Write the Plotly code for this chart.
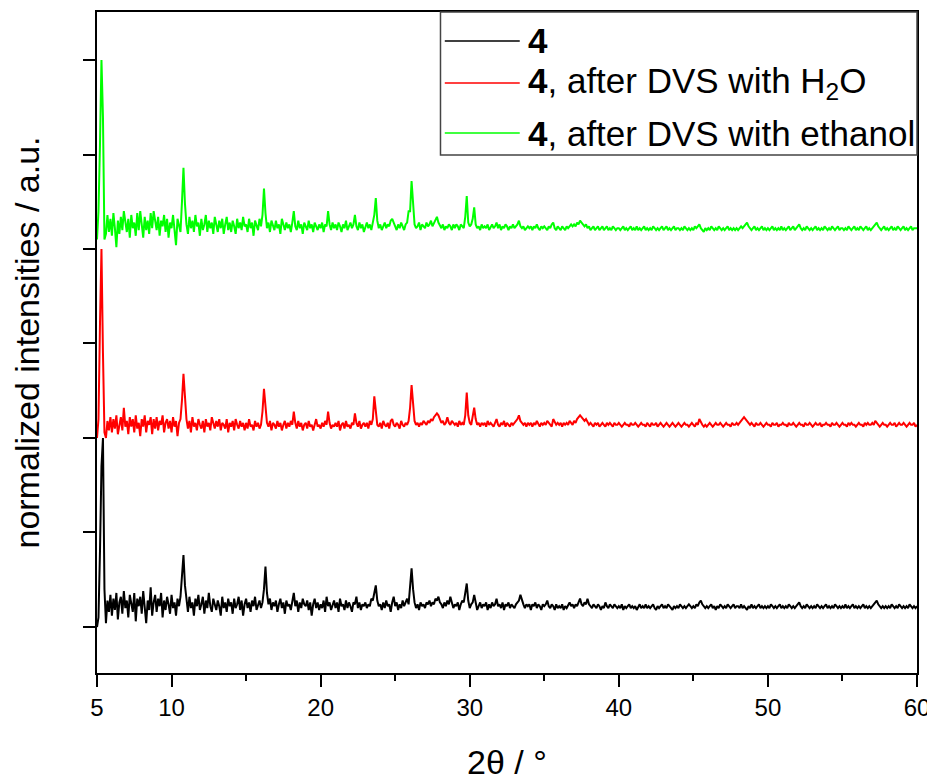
import plotly.graph_objects as go

# 2theta sampling grid: 5.0 .. 60.0 in 0.1 degree steps (rows below = 1 degree each)
two_theta = [round(5 + 0.1 * i, 1) for i in range(551)]

# normalized intensities (max peak = 100)
int_4 = [
    0, 5, 40, 85, 100, 20, 2, 14, 8, 17,
    6, 15, 9, 18, 4, 13, 16, 7, 19, 10,
    14, 5, 17, 12, 8, 18, 3, 15, 11, 16,
    7, 19, 10, 2, 14, 9, 21, 6, 13, 17,
    8, 15, 11, 18, 5, 14, 9, 16, 12, 7,
    17, 10, 13, 6, 15, 11, 16, 25, 38, 22,
    14, 8, 16, 10, 13, 6, 15, 11, 17, 9,
    12, 16, 7, 14, 10, 18, 11, 8, 15, 12,
    9, 14, 11, 6, 16, 10, 13, 8, 15, 11,
    13, 7, 15, 10, 12, 16, 9, 14, 6, 12,
    15, 10, 13, 8, 14, 11, 16, 9, 12, 14,
    10, 13, 20, 32, 18, 12, 15, 9, 13, 11,
    14, 8, 12, 15, 10, 13, 7, 14, 11, 12,
    9, 13, 18, 11, 14, 8, 13, 10, 15, 12,
    11, 14, 9, 13, 6, 12, 15, 10, 13, 9,
    12, 10, 14, 8, 16, 11, 13, 9, 12, 14,
    10, 13, 8, 15, 11, 12, 9, 14, 10, 13,
    11, 8, 13, 12, 16, 10, 13, 9, 12, 11,
    13, 10, 12, 11, 15, 14, 18, 22, 14, 11,
    12, 9, 13, 10, 14, 11, 12, 8, 13, 16,
    11, 13, 9, 12, 10, 14, 11, 13, 15, 12,
    20, 31, 20, 13, 10, 12, 9, 13, 11, 12,
    10, 13, 12, 14, 11, 13, 12, 15, 14, 16,
    13, 12, 10, 13, 11, 14, 12, 16, 13, 10,
    12, 11, 13, 9, 12, 14, 13, 18, 23, 14,
    10, 12, 13, 17, 12, 9, 11, 13, 10, 12,
    11, 13, 9, 12, 10, 13, 11, 12, 15, 11,
    12, 10, 13, 9, 12, 11, 13, 10, 12, 11,
    10, 12, 13, 14, 17, 14, 12, 10, 12, 11,
    12, 9, 12, 11, 13, 10, 12, 11, 9, 12,
    11, 12, 14, 11, 10, 12, 11, 9, 12, 10,
    11, 10, 12, 9, 11, 10, 12, 13, 11, 12,
    10, 12, 11, 13, 15, 12, 11, 13, 12, 15,
    12, 11, 10, 12, 11, 10, 12, 11, 9, 11,
    10, 13, 11, 10, 12, 11, 10, 12, 11, 10,
    11, 10, 12, 9, 11, 10, 11, 12, 10, 11,
    10, 11, 9, 11, 12, 10, 11, 10, 12, 10,
    11, 10, 11, 12, 10, 9, 11, 10, 11, 12,
    10, 11, 10, 12, 11, 10, 9, 11, 10, 11,
    10, 12, 11, 10, 11, 10, 11, 12, 11, 10,
    11, 10, 12, 11, 13, 14, 12, 11, 10, 11,
    10, 11, 12, 10, 11, 9, 11, 10, 12, 11,
    10, 11, 10, 12, 11, 10, 11, 12, 10, 11,
    11, 10, 12, 10, 11, 10, 9, 11, 10, 12,
    10, 11, 10, 11, 12, 10, 11, 10, 11, 10,
    11, 10, 12, 11, 10, 11, 10, 11, 12, 10,
    11, 10, 11, 10, 12, 11, 10, 11, 10, 11,
    12, 13, 11, 10, 11, 10, 12, 11, 10, 11,
    10, 11, 10, 12, 11, 10, 11, 10, 11, 12,
    10, 11, 10, 11, 10, 12, 11, 10, 11, 10,
    11, 10, 12, 10, 11, 10, 11, 12, 10, 11,
    10, 11, 10, 11, 12, 10, 11, 10, 11, 10,
    11, 12, 13, 14, 12, 11, 10, 11, 10, 11,
    10, 11, 10, 12, 11, 10, 11, 10, 12, 11,
    10, 11, 10, 11, 10, 12, 11, 10, 11, 10,
    11,
]

int_4_h2o = [
    0, 10, 60, 100, 45, 3, 0, 9, 4, 11,
    3, 10, 5, 12, 2, 8, 11, 4, 16, 6,
    9, 2, 11, 6, 10, 3, 12, 5, 8, 1,
    10, 6, 12, 3, 9, 7, 11, 2, 10, 5,
    11, 4, 9, 7, 12, 3, 8, 10, 5, 9,
    3, 11, 6, 9, 1, 8, 10, 20, 34, 22,
    10, 5, 9, 3, 11, 6, 8, 4, 10, 7,
    5, 9, 3, 10, 6, 8, 4, 11, 7, 5,
    9, 6, 10, 4, 8, 7, 5, 10, 3, 8,
    6, 9, 4, 10, 7, 5, 9, 6, 8, 4,
    8, 5, 10, 6, 7, 4, 9, 6, 8, 5,
    7, 14, 26, 15, 8, 6, 9, 4, 8, 7,
    5, 9, 6, 8, 4, 7, 9, 5, 8, 6,
    9, 7, 14, 8, 5, 9, 6, 8, 4, 7,
    8, 5, 9, 6, 7, 4, 8, 10, 6, 7,
    5, 8, 6, 9, 7, 14, 8, 5, 7, 6,
    8, 6, 9, 4, 7, 8, 5, 9, 6, 7,
    5, 8, 7, 13, 8, 6, 9, 5, 7, 8,
    6, 8, 5, 9, 7, 10, 22, 12, 7, 6,
    8, 5, 9, 7, 6, 8, 5, 9, 10, 7,
    6, 8, 7, 5, 9, 7, 6, 8, 7, 9,
    16, 28, 17, 9, 7, 8, 6, 8, 7, 9,
    8, 7, 9, 8, 10, 9, 11, 12, 13, 12,
    10, 8, 9, 7, 8, 11, 8, 7, 9, 8,
    7, 8, 6, 9, 7, 8, 7, 12, 24, 12,
    8, 7, 11, 16, 10, 7, 8, 6, 8, 7,
    8, 6, 9, 7, 8, 7, 6, 8, 10, 7,
    6, 8, 7, 9, 6, 8, 7, 6, 8, 7,
    8, 9, 10, 12, 9, 8, 7, 8, 6, 8,
    7, 8, 6, 8, 7, 9, 7, 6, 8, 7,
    8, 7, 9, 8, 7, 6, 10, 8, 7, 8,
    7, 8, 6, 8, 7, 8, 7, 9, 8, 7,
    9, 8, 10, 11, 12, 11, 10, 9, 10, 8,
    7, 8, 7, 6, 8, 7, 8, 6, 7, 8,
    7, 6, 8, 7, 8, 7, 6, 8, 7, 7,
    8, 7, 6, 7, 8, 7, 7, 6, 8, 7,
    7, 8, 7, 6, 7, 8, 7, 7, 6, 8,
    7, 6, 8, 7, 7, 8, 6, 7, 8, 7,
    6, 7, 8, 7, 6, 7, 8, 7, 6, 7,
    8, 7, 6, 7, 8, 7, 7, 6, 7, 8,
    7, 6, 8, 7, 10, 8, 7, 6, 7, 6,
    7, 8, 7, 6, 7, 8, 7, 7, 8, 7,
    6, 7, 8, 7, 7, 6, 8, 7, 7, 8,
    7, 8, 9, 10, 11, 10, 9, 8, 7, 8,
    7, 6, 8, 7, 7, 8, 7, 6, 7, 8,
    7, 7, 6, 8, 7, 7, 8, 6, 7, 7,
    8, 7, 7, 6, 8, 7, 7, 8, 7, 6,
    7, 8, 7, 7, 6, 8, 7, 7, 8, 7,
    6, 7, 8, 7, 7, 8, 6, 7, 7, 8,
    7, 7, 6, 8, 7, 7, 8, 7, 6, 7,
    8, 7, 7, 6, 8, 7, 8, 7, 7, 6,
    7, 8, 7, 7, 6, 8, 7, 8, 7, 7,
    8, 7, 9, 8, 7, 6, 7, 8, 7, 7,
    6, 7, 8, 7, 7, 8, 6, 7, 8, 7,
    7, 8, 7, 6, 7, 8, 7, 7, 8, 6,
    7,
]

int_4_ethanol = [
    5, 20, 55, 100, 70, 5, 8, 18, 9, 16,
    7, 19, 11, 1, 15, 8, 17, 10, 20, 13,
    9, 16, 6, 18, 11, 14, 7, 19, 10, 20,
    12, 6, 17, 10, 15, 8, 19, 11, 20, 14,
    10, 17, 7, 15, 12, 18, 9, 16, 6, 14,
    11, 18, 8, 2, 16, 13, 9, 25, 43, 24,
    13, 8, 17, 11, 15, 9, 18, 12, 14, 7,
    16, 10, 13, 18, 9, 15, 11, 14, 8, 17,
    12, 9, 15, 11, 16, 8, 13, 17, 10, 14,
    9, 15, 12, 8, 16, 11, 14, 10, 17, 12,
    13, 9, 16, 11, 14, 7, 15, 12, 10, 16,
    12, 18, 32, 19, 11, 14, 9, 15, 12, 10,
    15, 11, 13, 8, 16, 12, 10, 14, 11, 13,
    9, 14, 20, 12, 10, 15, 11, 13, 8, 14,
    12, 10, 15, 11, 13, 9, 14, 12, 10, 13,
    11, 14, 9, 13, 12, 20, 13, 10, 14, 11,
    13, 10, 14, 12, 9, 13, 11, 15, 10, 12,
    14, 11, 13, 18, 12, 10, 14, 11, 13, 9,
    12, 14, 11, 13, 10, 15, 18, 27, 15, 11,
    13, 10, 12, 14, 11, 13, 12, 15, 16, 14,
    12, 10, 13, 11, 14, 12, 10, 13, 14, 20,
    20, 36, 21, 13, 11, 12, 14, 10, 13, 12,
    11, 14, 12, 13, 15, 12, 14, 16, 17, 14,
    12, 11, 13, 10, 12, 11, 13, 12, 10, 13,
    11, 13, 12, 10, 13, 12, 11, 17, 28, 14,
    12, 13, 16, 22, 13, 11, 12, 10, 13, 11,
    12, 11, 13, 10, 12, 13, 11, 12, 14, 11,
    13, 10, 12, 11, 13, 12, 10, 12, 11, 13,
    11, 12, 13, 15, 12, 11, 12, 10, 11, 12,
    11, 12, 10, 12, 11, 13, 11, 10, 12, 11,
    12, 11, 10, 12, 11, 13, 14, 11, 10, 12,
    11, 10, 12, 11, 10, 12, 11, 12, 13, 12,
    13, 12, 14, 13, 15, 14, 13, 12, 13, 11,
    12, 10, 11, 12, 10, 11, 12, 10, 11, 12,
    10, 11, 12, 10, 11, 10, 12, 11, 10, 11,
    11, 10, 11, 12, 10, 11, 10, 11, 12, 10,
    11, 10, 12, 10, 11, 10, 11, 12, 10, 11,
    10, 11, 10, 12, 11, 10, 11, 10, 11, 12,
    10, 11, 12, 10, 11, 10, 11, 12, 10, 11,
    11, 10, 11, 10, 12, 11, 10, 11, 10, 11,
    10, 12, 11, 12, 13, 11, 10, 9, 11, 10,
    11, 10, 12, 11, 10, 11, 10, 12, 11, 10,
    11, 10, 11, 12, 10, 11, 10, 11, 10, 11,
    10, 11, 12, 11, 12, 13, 14, 12, 11, 10,
    11, 12, 10, 11, 10, 11, 12, 10, 11, 10,
    11, 10, 11, 12, 10, 11, 10, 11, 10, 12,
    10, 11, 10, 11, 12, 10, 11, 12, 10, 11,
    12, 13, 11, 10, 11, 10, 12, 11, 10, 11,
    10, 11, 12, 10, 11, 10, 11, 10, 12, 11,
    10, 11, 10, 12, 11, 10, 11, 12, 10, 11,
    11, 10, 11, 10, 12, 11, 10, 11, 12, 10,
    11, 10, 12, 11, 10, 11, 12, 10, 11, 10,
    11, 12, 13, 14, 12, 11, 10, 11, 12, 10,
    11, 10, 11, 12, 10, 11, 10, 12, 11, 10,
    11, 12, 10, 11, 10, 11, 12, 10, 11, 11,
    11,
]

series_names = [
    "<b>4</b>",
    "<b>4</b>, after DVS with H<sub>2</sub>O",
    "<b>4</b>, after DVS with ethanol",
]
series_values = [int_4, int_4_h2o, int_4_ethanol]
series_colors = ["#000000", "#ff0000", "#00ff00"]
stack_offsets = [0, 2, 4]       # vertical stacking of the patterns
peak_height = 2.0               # plotted height of a normalized 100 % peak

x_ticks = [5, 10, 20, 30, 40, 50, 60]
x_minor_ticks = [15, 25, 35, 45, 55]
y_ticks = [0, 1, 2, 3, 4, 5, 6]

FONT = "Liberation Sans, Arial, Helvetica, sans-serif"

fig = go.Figure()
for name, vals, col, off in zip(series_names, series_values, series_colors, stack_offsets):
    fig.add_trace(go.Scatter(
        x=two_theta,
        y=[off + peak_height * v / 100.0 for v in vals],
        mode="lines",
        name=name,
        line=dict(color=col, width=2.0),
        showlegend=False,
    ))

# the page is shown with an 8 px body offset; plot area wanted at page pixels L..R, T..B
PAGE_OFF = 8
L, R, T, B = 97, 917.5, 12, 673
W, H = R - L, B - T
def px(x):
    return (x - L) / W
def py(y):
    return (B - y) / H

shapes = [dict(type="rect", xref="paper", yref="paper",
               x0=px(440.7), x1=1.0, y0=py(155), y1=1.0,
               line=dict(color="#444444", width=1.5), fillcolor="white", layer="above")]
annotations = []
row_y = [41, 83, 133]
for name, col, yy in zip(series_names, series_colors, row_y):
    shapes.append(dict(type="line", xref="paper", yref="paper",
                       x0=px(445), x1=px(520), y0=py(yy), y1=py(yy),
                       line=dict(color=col, width=1.4), layer="above"))
    annotations.append(dict(xref="paper", yref="paper", x=px(526), y=py(yy),
                            xanchor="left", yanchor="middle", showarrow=False,
                            text=name, font=dict(family=FONT, size=35, color="black")))

fig.update_layout(
    width=935, height=780,
    margin=dict(l=L - PAGE_OFF, r=935 - (R - PAGE_OFF), t=T - PAGE_OFF,
                b=780 - (B - PAGE_OFF), autoexpand=False),
    paper_bgcolor="white", plot_bgcolor="white",
    showlegend=False,
    font=dict(family=FONT, color="black"),
    shapes=shapes, annotations=annotations,
    xaxis=dict(
        range=[5, 60], tickmode="array", tickvals=x_ticks,
        ticks="outside", ticklen=12, tickwidth=2, tickcolor="black",
        showline=True, linewidth=2, linecolor="black", mirror=True,
        showgrid=False, zeroline=False, automargin=False,
        tickfont=dict(family=FONT, size=24, color="black"),
        title=dict(text="2θ / °", font=dict(family=FONT, size=34), standoff=30),
        minor=dict(tickmode="array", tickvals=x_minor_ticks, ticks="outside",
                   ticklen=6, tickwidth=2, tickcolor="black", showgrid=False),
    ),
    yaxis=dict(
        range=[-0.487, 6.508], tickmode="array", tickvals=y_ticks,
        showticklabels=False,
        ticks="outside", ticklen=12, tickwidth=2, tickcolor="black",
        showline=True, linewidth=2, linecolor="black", mirror=True,
        showgrid=False, zeroline=False, automargin=False,
        title=dict(text="normalized intensities / a.u.",
                   font=dict(family=FONT, size=34), standoff=34),
    ),
)

fig.write_html("out.html")
